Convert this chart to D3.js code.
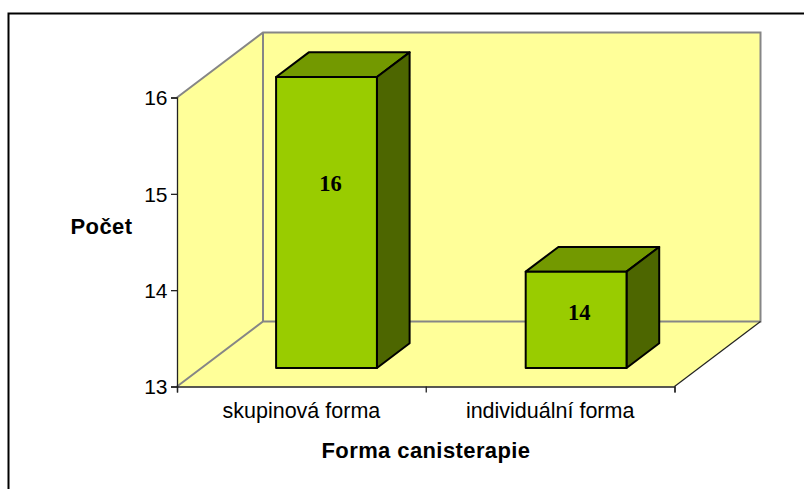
<!DOCTYPE html>
<html>
<head>
<meta charset="utf-8">
<script src="https://cdn.jsdelivr.net/npm/d3@7"></script>
<style>
  html, body { margin: 0; padding: 0; background: #fff; overflow: hidden; }
  svg { display: block; }
  text { font-family: "Liberation Sans", Arial, sans-serif; fill: #000; }
</style>
</head>
<body>
<svg id="chart"></svg>
<script>
var categories = ["skupinová forma", "individuální forma"];
var barValues = [16.02, 14];
var yTicks = [13, 14, 15, 16];
var xTitle = "Forma canisterapie";
var yTitle = "Počet";

var width = 804;
var height = 489;

var svg = d3.select("#chart")
            .attr("width", width)
            .attr("height", height);

var y = d3.scaleLinear().domain([13, 16]).range([386.5, 97.5]);
var xBand = d3.scaleBand().domain(categories).range([177, 674.5]);
var xEdge = d3.scaleLinear().domain([0, categories.length]).range([177, 674.5]);
// bars sit a little wider apart than the axis bands
var barBand = d3.scaleBand().domain(categories).range([177.2, 676.4]);

// depth of the 3d box, 0 = front plane, 1 = back wall
var depthX = d3.scaleLinear().domain([0, 1]).range([0, 86]);
var depthY = d3.scaleLinear().domain([0, 1]).range([0, -65]);

var barShare = 0.404;
var barFront = 0.285;
var barBack = 0.665;

function pt(px, value, depth) {
  return [px + depthX(depth), y(value) + depthY(depth)];
}

function poly(points) {
  return d3.line()(points) + "Z";
}

// frame, only top and left are visible
svg.append("path")
   .attr("d", d3.line()([[804, 13.5], [8.5, 13.5], [8.5, 489]]))
   .attr("fill", "none")
   .attr("stroke", "#000")
   .attr("stroke-width", 2);

var wallColor = "#ffff99";
var grey = "#868686";
var x0 = xEdge.range()[0];
var x1 = xEdge.range()[1];
var yMin = y.domain()[0];
var yMax = y.domain()[1];

var walls = svg.append("g");

walls.append("path")
     .attr("d", poly([pt(x0, yMin, 0), pt(x0, yMax, 0), pt(x0, yMax, 1), pt(x0, yMin, 1)]))
     .attr("fill", wallColor);
walls.append("path")
     .attr("d", poly([pt(x0, yMin, 1), pt(x0, yMax, 1), pt(x1, yMax, 1), pt(x1, yMin, 1)]))
     .attr("fill", wallColor);
walls.append("path")
     .attr("d", poly([pt(x0, yMin, 0), pt(x0, yMin, 1), pt(x1, yMin, 1), pt(x1, yMin, 0)]))
     .attr("fill", wallColor);

walls.append("path")
     .attr("d", d3.line()([pt(x0, yMax, 0), pt(x0, yMax, 1), pt(x1, yMax, 1), pt(x1, yMin, 1), pt(x0, yMin, 1), pt(x0, yMin, 0)]))
     .attr("fill", "none")
     .attr("stroke", grey)
     .attr("stroke-width", 2);
walls.append("path")
     .attr("d", d3.line()([pt(x0, yMin, 1), pt(x0, yMax, 1)]))
     .attr("stroke", grey)
     .attr("stroke-width", 2);
walls.append("path")
     .attr("d", d3.line()([pt(x1, yMin, 0), pt(x1, yMin, 1)]))
     .attr("stroke", "#222")
     .attr("stroke-width", 1.2);

// axes
var yAxis = d3.axisLeft(y).tickValues(yTicks).tickSize(6).tickPadding(3.5).tickFormat(d3.format("d"));
var gy = svg.append("g")
            .attr("transform", "translate(" + x0 + ",0)")
            .call(yAxis);
gy.selectAll("text").style("font-size", "21px").attr("dy", "0.35em");
gy.selectAll("line, path").attr("stroke", "#222").attr("stroke-width", 1.3);

var edgeAxis = d3.axisBottom(xEdge).tickValues(d3.range(0, categories.length + 1)).tickSize(6).tickFormat("");
var gEdge = svg.append("g")
               .attr("transform", "translate(0," + y(yMin) + ")")
               .call(edgeAxis);
gEdge.selectAll("line, path").attr("stroke", "#222").attr("stroke-width", 1.3);

var catAxis = d3.axisBottom(xBand).tickSize(0).tickPadding(16);
var gx = svg.append("g")
            .attr("transform", "translate(0," + y(yMin) + ")")
            .call(catAxis);
gx.select(".domain").remove();
gx.selectAll("text").style("font-size", "21.5px").attr("dy", "0.71em");

// bars
var bars = svg.selectAll(".bar")
              .data(barValues)
              .enter().append("g")
              .attr("class", "bar")
              .attr("stroke", "#000")
              .attr("stroke-width", 2)
              .attr("stroke-linejoin", "round");

var barWidth = barBand.bandwidth() * barShare;

function barLeft(i) {
  return barBand(categories[i]) + (barBand.bandwidth() - barWidth) / 2;
}

bars.append("path")
    .attr("fill", "#739900")
    .attr("d", function(d, i) {
      var l = barLeft(i), r = l + barWidth;
      return poly([pt(l, d, barFront), pt(l, d, barBack), pt(r, d, barBack), pt(r, d, barFront)]);
    });
bars.append("path")
    .attr("fill", "#4d6600")
    .attr("d", function(d, i) {
      var r = barLeft(i) + barWidth;
      return poly([pt(r, d, barFront), pt(r, d, barBack), pt(r, yMin, barBack), pt(r, yMin, barFront)]);
    });
bars.append("path")
    .attr("fill", "#99cc00")
    .attr("d", function(d, i) {
      var l = barLeft(i), r = l + barWidth;
      return poly([pt(l, d, barFront), pt(r, d, barFront), pt(r, yMin, barFront), pt(l, yMin, barFront)]);
    });

bars.append("text")
    .attr("x", function(d, i) {
      return pt(xBand(categories[i]) + xBand.bandwidth() / 2, d, barFront)[0] + 4.5;
    })
    .attr("y", function(d) {
      var mid = (pt(0, d, barFront)[1] + pt(0, yMin, barFront)[1]) / 2;
      return mid - 7.6 - 15.7 * (d - 14);
    })
    .attr("text-anchor", "middle")
    .attr("dy", "0.35em")
    .attr("stroke", "none")
    .style("font-family", "'Liberation Serif', 'Times New Roman', serif")
    .style("font-weight", "bold")
    .style("font-size", "22.5px")
    .text(function(d) { return d3.format(".0f")(d); });

// axis titles
svg.append("text")
   .attr("x", 426)
   .attr("y", 450.5)
   .attr("text-anchor", "middle")
   .attr("dy", "0.35em")
   .style("font-weight", "bold")
   .style("font-size", "22px")
   .style("letter-spacing", "0.4px")
   .text(xTitle);

svg.append("text")
   .attr("x", 101.5)
   .attr("y", 226.5)
   .attr("text-anchor", "middle")
   .attr("dy", "0.35em")
   .style("font-weight", "bold")
   .style("font-size", "22px")
   .style("letter-spacing", "0.4px")
   .text(yTitle);
</script>
</body>
</html>
